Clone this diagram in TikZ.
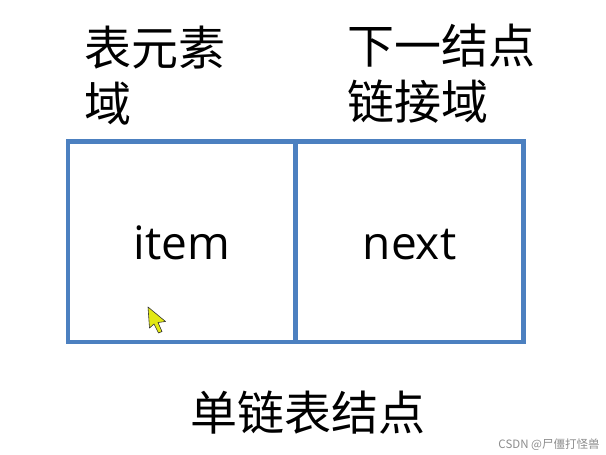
\documentclass[tikz,border=0pt]{standalone}
\usepackage{fontspec}
\setmainfont{Open Sans}
\newfontfamily\cjk{Noto Sans CJK SC}
\usetikzlibrary{positioning}
\definecolor{cellBlue}{RGB}{76,128,192}
\definecolor{cursorYellow}{RGB}{226,232,20}

\begin{document}
\begin{tikzpicture}[x = 1pt, y = -1pt,
	cell/.style = {draw = cellBlue, line width = 4.5pt, minimum height = 200.5pt,
		inner sep = 0pt, outer sep = 0pt, font = \fontsize{46}{46}\selectfont,
		text height = 35pt, text depth = 0pt},
	fieldText/.style = {font = \cjk\fontsize{47}{56}\selectfont, align = left,
		inner sep = 0pt, anchor = base west}]

	\useasboundingbox (0, 0) rectangle (606, 455);

		% Define coordinates.

	%cells
	\coordinate (itemCorner) at (68, 141.5);

	%texts above (base of the last line) and below
	\coordinate (itemFieldBase) at (84, 121);
	\coordinate (nextFieldBase) at (347, 119);
	\coordinate (titleBase) at (308, 430);
	\coordinate (markBase) at (549, 448);

	%cursor tip
	\coordinate (cursorTip) at (148, 307);

% Draw cells.

	\node[cell, minimum width = 227.5pt, anchor = north west] (itemCell) at (itemCorner) {item};
	\node[cell, minimum width = 228pt, right = 0pt of itemCell] (nextCell) {next};

% Field names.

	\node[fieldText] (itemField) at (itemFieldBase) {表元素\\域};
	\node[fieldText] (nextField) at (nextFieldBase) {下一结点\\链接域};

	\node[font = \cjk\fontsize{47}{47}\selectfont, anchor = base, inner sep = 0pt] (nodeTitle) at (titleBase) {单链表结点};

% Cursor.

	\filldraw[fill = cursorYellow, draw = black!80, line width = 0.6pt, line join = round, shift = {(cursorTip)}]
		(0, 0) -- (1.5, 21) -- (6, 17) -- (10.5, 26) -- (14, 24.5) -- (10, 15.5) -- (17.5, 14.5) -- cycle;

	\node[font = \cjk\fontsize{11.5}{11.5}\selectfont, text = black!45, anchor = base, inner sep = 0pt] (watermark) at (markBase) {CSDN @尸僵打怪兽};

\end{tikzpicture}
\end{document}
